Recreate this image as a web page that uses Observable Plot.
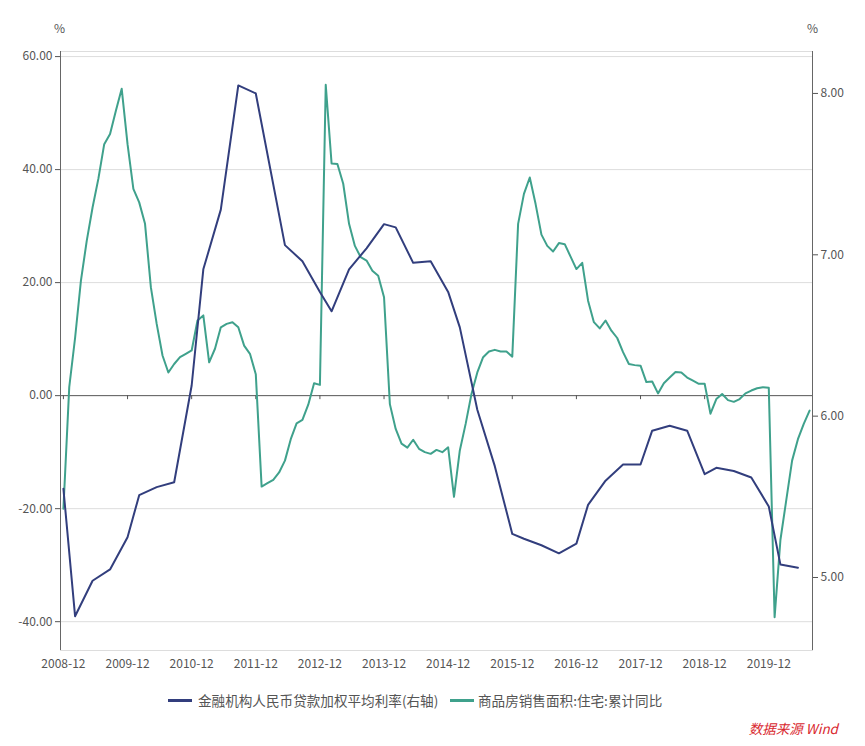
<!DOCTYPE html>
<html><head><meta charset="utf-8">
<script src="https://cdn.jsdelivr.net/npm/d3@7"></script>
<script src="https://cdn.jsdelivr.net/npm/@observablehq/plot@0.6"></script>
<style>
body{margin:0;background:#fff;font-family:"Noto Sans CJK SC","Noto Sans",sans-serif;}
#wrap{position:relative;width:865px;height:746px;overflow:hidden;}
#chart{position:absolute;left:0;top:0;}
.unit{position:absolute;top:20px;font-size:12px;line-height:16px;color:#555;}
.sw{position:absolute;height:3px;width:24px;}
.lt{position:absolute;font-size:13.6px;line-height:16px;color:#555;white-space:nowrap;}
#source{position:absolute;right:27px;top:719px;font-size:13.5px;line-height:18px;color:#d9282f;font-style:italic;white-space:nowrap;}
</style></head><body>
<div id="wrap">
  <div id="chart"></div>
  <div class="unit" style="left:54px">%</div>
  <div class="unit" style="left:807px">%</div>
  <div id="legend"></div>
  <div id="source">数据来源 Wind</div>
</div>
<script>
// ---- categories (monthly, no January: Jan–Feb reported together) ----
const firstPeriod = ["2008-12"];
const years = [2009, 2010, 2011, 2012, 2013, 2014, 2015, 2016, 2017, 2018, 2019];
const months = ["02","03","04","05","06","07","08","09","10","11","12"];
const lastYearMonths = ["2020-02","2020-03","2020-04","2020-05","2020-06","2020-07","2020-08"];
const periods = firstPeriod.concat(years.flatMap(y => months.map(m => `${y}-${m}`)), lastYearMonths);

const tickLabels = ["2008-12","2009-12","2010-12","2011-12","2012-12","2013-12","2014-12","2015-12","2016-12","2017-12","2018-12","2019-12"];

// ---- series names ----
const rateName = "金融机构人民币贷款加权平均利率(右轴)";
const salesName = "商品房销售面积:住宅:累计同比";

// ---- 商品房销售面积:住宅:累计同比 (%), one value per period ----
const salesValues = [
  -20.0,
  1.5, 10.2, 20.3, 27.4, 33.3, 38.4, 44.5, 46.3, 50.4, 54.3, 44.5,          // 2009
  36.6, 34.2, 30.4, 19.2, 12.7, 7.1, 4.1, 5.6, 6.8, 7.4, 8.0,                // 2010
  13.3, 14.2, 5.9, 8.3, 12.1, 12.7, 13.0, 12.1, 8.85, 7.4, 3.8,              // 2011
  -16.1, -15.5, -14.9, -13.6, -11.5, -7.7, -4.9, -4.3, -1.6, 2.2, 1.9,       // 2012
  55.0, 41.1, 41.0, 37.5, 30.4, 26.5, 24.5, 23.9, 22.1, 21.2, 17.4,          // 2013
  -1.5, -5.9, -8.5, -9.2, -7.8, -9.4, -10.0, -10.3, -9.6, -10.0, -9.15,      // 2014
  -17.9, -9.7, -5.0, 0.3, 4.1, 6.8, 7.8, 8.1, 7.8, 7.8, 6.9,                 // 2015
  30.4, 35.7, 38.6, 33.9, 28.5, 26.5, 25.5, 27.0, 26.8, 24.6, 22.4,          // 2016
  23.5, 16.8, 13.0, 11.9, 13.3, 11.5, 10.2, 7.7, 5.6, 5.4, 5.3,              // 2017
  2.4, 2.5, 0.4, 2.2, 3.2, 4.2, 4.1, 3.2, 2.65, 2.1, 2.1,                    // 2018
  -3.2, -0.6, 0.3, -0.8, -1.1, -0.6, 0.4, 0.9, 1.3, 1.5, 1.4,                // 2019
  -39.2, -25.5, -18.5, -11.5, -7.7, -5.0, -2.65                              // 2020
];

// ---- 金融机构人民币贷款加权平均利率 (%), quarterly ----
const ratePeriods = [
  "2008-12",
  "2009-03","2009-06","2009-09","2009-12",
  "2010-03","2010-06","2010-09","2010-12",
  "2011-03","2011-06","2011-09","2011-12",
  "2012-06","2012-09","2012-12",
  "2013-03","2013-06","2013-09","2013-12",
  "2014-03","2014-06","2014-09","2014-12",
  "2015-03","2015-06","2015-09","2015-12",
  "2016-03","2016-06","2016-09","2016-12",
  "2017-03","2017-06","2017-09","2017-12",
  "2018-03","2018-06","2018-09","2018-12",
  "2019-03","2019-06","2019-09","2019-12",
  "2020-03","2020-06"
];
const rateValues = [
  5.55,
  4.76, 4.98, 5.05, 5.25,
  5.51, 5.56, 5.59, 6.19,
  6.91, 7.28, 8.05, 8.00,
  7.06, 6.96, 6.77,
  6.65, 6.91, 7.04, 7.19,
  7.17, 6.95, 6.96, 6.77,
  6.55, 6.04, 5.69, 5.27,
  5.24, 5.20, 5.15, 5.21,
  5.45, 5.60, 5.70, 5.70,
  5.91, 5.94, 5.91, 5.64,
  5.68, 5.66, 5.62, 5.44,
  5.08, 5.06
];

// ---- axes ----
const leftTicks = [-40, -20, 0, 20, 40, 60];
const gridTicks = [-40, -20, 20, 40, 60];
const rightTicks = [5, 6, 7, 8];
const leftDomain = [-45.1, 60.9];
const rightDomain = [4.5475, 8.26];

const colors = {rate: "#323e7d", sales: "#3fa18c"};

const toLeft = v => leftDomain[0] + (v - rightDomain[0]) / (rightDomain[1] - rightDomain[0]) * (leftDomain[1] - leftDomain[0]);
const fromLeft = v => rightDomain[0] + (v - leftDomain[0]) / (leftDomain[1] - leftDomain[0]) * (rightDomain[1] - rightDomain[0]);

const salesData = periods.map((p, i) => ({period: p, value: salesValues[i]}));
const rateData = ratePeriods.map((p, i) => ({period: p, value: rateValues[i]}));

const axisColor = "#555";
const font = '"Noto Sans CJK SC","Noto Sans",sans-serif';

const sideLines = (index, scales, values, dims) => {
  const {width, height, marginLeft, marginRight, marginTop, marginBottom} = dims;
  const g = d3.create("svg:g").attr("stroke", "#666").attr("stroke-width", 1);
  g.append("line").attr("x1", marginLeft + 0.5).attr("x2", marginLeft + 0.5)
    .attr("y1", marginTop).attr("y2", height - marginBottom);
  g.append("line").attr("x1", width - marginRight + 0.5).attr("x2", width - marginRight + 0.5)
    .attr("y1", marginTop).attr("y2", height - marginBottom);
  return g.node();
};

const chart = Plot.plot({
  width: 865,
  height: 680,
  marginTop: 51,
  marginBottom: 30,
  marginLeft: 60,
  marginRight: 53,
  style: {fontFamily: font, background: "#fff", overflow: "visible"},
  x: {type: "point", domain: periods, padding: 0.5, axis: null, label: null},
  y: {domain: leftDomain, axis: null, label: null},
  marks: [
    Plot.frame({stroke: "#dddddd"}),
    Plot.ruleY(gridTicks, {stroke: "#dddddd"}),
    Plot.ruleY([0], {stroke: "#555"}),
    sideLines,
    Plot.ruleX(tickLabels, {x: d => d, y1: 0, y2: 0, insetBottom: -4, stroke: "#555"}),
    Plot.axisX({ticks: tickLabels, tickSize: 0, tickPadding: 9, fontSize: 12, color: axisColor, label: null}),
    Plot.axisY({anchor: "left", ticks: leftTicks, tickFormat: d => d.toFixed(2), tickSize: 5, tickPadding: 3, fontSize: 12, color: axisColor, label: null}),
    Plot.axisY({anchor: "right", ticks: rightTicks.map(toLeft), tickFormat: d => fromLeft(d).toFixed(2), tickSize: 5, tickPadding: 3, fontSize: 12, color: axisColor, label: null}),
    Plot.line(salesData, {x: "period", y: "value", stroke: colors.sales, strokeWidth: 2}),
    Plot.line(rateData, {x: "period", y: d => toLeft(d.value), stroke: colors.rate, strokeWidth: 2})
  ]
});
document.getElementById("chart").appendChild(chart);

// ---- legend ----
const legend = document.getElementById("legend");
const items = [
  {name: rateName, color: colors.rate, swatchX: 168, textX: 198},
  {name: salesName, color: colors.sales, swatchX: 450, textX: 478}
];
for (const it of items) {
  const sw = document.createElement("div");
  sw.className = "sw";
  sw.style.left = it.swatchX + "px";
  sw.style.top = "699px";
  sw.style.background = it.color;
  legend.appendChild(sw);
  const t = document.createElement("div");
  t.className = "lt";
  t.style.left = it.textX + "px";
  t.style.top = "692px";
  t.textContent = it.name;
  legend.appendChild(t);
}
</script>
</body></html>
